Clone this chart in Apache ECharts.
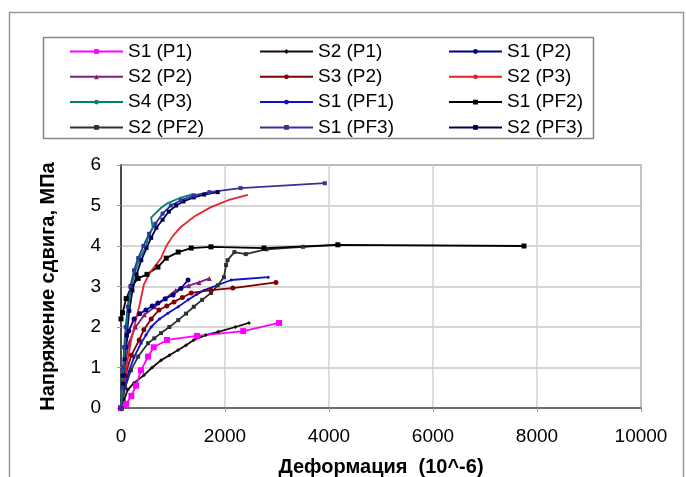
<!DOCTYPE html>
<html><head><meta charset="utf-8">
<script src="https://cdn.jsdelivr.net/npm/echarts@6/dist/echarts.min.js"></script>
<style>html,body{margin:0;padding:0;background:#fff}#c{width:686px;height:477px}</style>
</head><body><div id="c"></div>
<script>
var xTicks = [0, 2000, 4000, 6000, 8000, 10000];
var yTicks = [0, 1, 2, 3, 4, 5, 6];
var xTitle = 'Деформация  (10^-6)';
var yTitle = 'Напряжение сдвига, МПа';

var names = ['S1 (P1)','S2 (P1)','S1 (P2)','S2 (P2)','S3 (P2)','S2 (P3)','S4 (P3)','S1 (PF1)','S1 (PF2)','S2 (PF2)','S1 (PF3)','S2 (PF3)'];

var s1p1 = [[0,0],[100,0.1],[200,0.3],[290,0.55],[385,0.93],[520,1.27],[630,1.5],[885,1.68],[1460,1.78],[2350,1.9],[3040,2.1]];
var s2p1 = [[0,0],[60,0.2],[130,0.45],[250,0.62],[440,0.81],[600,1.0],[770,1.18],[930,1.3],[1100,1.43],[1250,1.55],[1400,1.68],[1630,1.8],[1870,1.88],[2200,2.0],[2460,2.1]];
var s1p2 = [[0,0],[40,0.8],[90,1.5],[150,1.9],[250,2.2],[360,2.33],[480,2.42],[600,2.52],[710,2.59],[850,2.7],[1000,2.79],[1150,2.95],[1290,3.16]];
var s2p2 = [[0,0],[70,1.0],[150,1.6],[280,2.0],[450,2.3],[650,2.5],[850,2.7],[1050,2.9],[1300,3.02],[1500,3.1],[1700,3.2]];
var s3p2 = [[0,0],[80,0.8],[200,1.3],[350,1.68],[440,1.93],[580,2.2],[730,2.42],[880,2.52],[1020,2.62],[1180,2.73],[1350,2.84],[1730,2.91],[2150,2.96],[2980,3.1]];
var s2p3 = [[0,0],[60,0.6],[130,1.2],[200,1.7],[270,2.1],[350,2.5],[440,3.05],[560,3.35],[680,3.55],[770,3.7],[870,4.0],[1000,4.25],[1150,4.47],[1400,4.72],[1730,4.96],[2060,5.13],[2440,5.26]];
var s4p3 = [[0,0],[40,0.8],[80,1.6],[130,2.4],[200,3.0],[280,3.4],[380,3.75],[480,3.98],[520,4.2],[610,4.45],[580,4.7],[670,4.82],[780,4.95],[900,5.06],[1120,5.18],[1380,5.28]];
var s1pf1 = [[0,0],[60,0.5],[150,0.9],[250,1.25],[385,1.6],[480,1.8],[580,2.0],[740,2.2],[900,2.34],[1100,2.5],[1290,2.67],[1450,2.8],[1600,2.91],[2120,3.16],[2830,3.23]];
var s1pf2 = [[0,2.2],[30,2.35],[100,2.7],[200,3.0],[330,3.2],[500,3.3],[710,3.48],[870,3.7],[1100,3.85],[1350,3.95],[1730,3.98],[2750,3.95],[4170,4.03],[7750,4.0]];
var s2pf2 = [[0,0],[80,0.5],[190,0.93],[330,1.27],[520,1.6],[640,1.72],[770,1.85],[930,2.0],[1100,2.17],[1250,2.33],[1400,2.5],[1560,2.67],[1730,2.84],[1860,3.03],[1980,3.23],[2020,3.53],[2050,3.65],[2180,3.85],[2400,3.8],[2800,3.92],[3500,3.98],[4170,4.03]];
var s1pf3 = [[0,0],[20,0.5],[40,1.0],[60,1.5],[90,2.0],[130,2.5],[180,3.0],[250,3.4],[330,3.7],[430,4.0],[540,4.3],[660,4.55],[800,4.8],[960,5.0],[1150,5.13],[1400,5.25],[1700,5.33],[2300,5.43],[3920,5.55]];
var s2pf3 = [[0,0],[40,0.6],[70,1.2],[110,1.8],[160,2.4],[220,2.9],[300,3.3],[390,3.65],[490,3.95],[580,4.2],[680,4.45],[800,4.65],[920,4.85],[1060,5.0],[1200,5.1],[1400,5.2],[1600,5.27],[1860,5.33]];

var seriesData = [s1p1,s2p1,s1p2,s2p2,s3p2,s2p3,s4p3,s1pf1,s1pf2,s2pf2,s1pf3,s2pf3];
var colors = ['#ff00ff','#1a0a0a','#000080','#7a1f7a','#800000','#e8202a','#00806a','#1010c8','#000000','#2a3333','#333399','#000050'];
var symbols = ['rect','diamond','circle','triangle','circle','none','none','circle','rect','rect','rect','rect'];
var sizes = [6,4,5,5,5,0,0,3,5,4,4,4];
var drawOrder = [9,1,0,7,4,3,2,8,5,11,10,6];

var series = [];
drawOrder.forEach(function(i){
  series.push({
    name: names[i], type: 'line', data: seriesData[i],
    color: colors[i], symbol: symbols[i], symbolSize: sizes[i],
    showSymbol: symbols[i] !== 'none',
    lineStyle: {width: 1.8, color: colors[i]},
    itemStyle: {color: colors[i]},
    animation: false
  });
});

var cols = [
  ['S1 (P1)','S2 (P2)','S4 (P3)','S2 (PF2)'],
  ['S2 (P1)','S3 (P2)','S1 (PF1)','S1 (PF3)'],
  ['S1 (P2)','S2 (P3)','S1 (PF2)','S2 (PF3)']
];
var colLeft = [69, 259, 448];
var legends = cols.map(function(c, k){
  return {
    data: c, orient: 'vertical', left: colLeft[k], top: 41, padding: 0,
    itemWidth: 53, itemHeight: 6, itemGap: 4.3,
    selectedMode: false,
    textStyle: {fontFamily: 'Liberation Sans', fontSize: 19, color: '#000', lineHeight: 21}
  };
});

var lab = {fontFamily: 'Liberation Sans', fontSize: 19, color: '#000'};
var ttl = {fontFamily: 'Liberation Sans', fontSize: 20, fontWeight: 'bold', color: '#000'};

var chart = echarts.init(document.getElementById('c'), null, {renderer: 'canvas'});
chart.setOption({
  backgroundColor: '#fff',
  animation: false,
  legend: legends,
  graphic: [
    {type: 'rect', shape: {x: 9.5, y: 12.5, width: 674, height: 480}, style: {fill: 'none', stroke: '#999', lineWidth: 1.5}, silent: true, z: -10},
    {type: 'rect', shape: {x: 43.5, y: 37.5, width: 550, height: 101}, style: {fill: 'none', stroke: '#888', lineWidth: 1.5}, silent: true, z: -10}
  ],
  grid: {left: 121, right: 45, top: 165, bottom: 69, show: true, borderColor: '#777', borderWidth: 1.5, outerBoundsMode: 'none', containLabel: false},
  xAxis: {
    type: 'value', min: xTicks[0], max: xTicks[xTicks.length-1], interval: 2000,
    name: xTitle, nameLocation: 'middle', nameGap: 49,
    nameTextStyle: ttl,
    axisLine: {lineStyle: {color: '#555', width: 1.5}},
    axisTick: {show: true, length: 4, lineStyle: {color: '#999'}},
    axisLabel: Object.assign({margin: 19, formatter: function(v){ return String(v); }}, lab),
    splitLine: {show: true, lineStyle: {color: '#d0d0d0', width: 1.5}}
  },
  yAxis: {
    type: 'value', min: yTicks[0], max: yTicks[yTicks.length-1], interval: 1,
    name: yTitle, nameLocation: 'middle', nameGap: 63, nameRotate: 90,
    nameTextStyle: ttl,
    axisLine: {show: true, lineStyle: {color: '#222', width: 1.5}},
    axisTick: {show: true, length: 4, lineStyle: {color: '#999'}},
    axisLabel: Object.assign({margin: 20}, lab),
    splitLine: {show: true, lineStyle: {color: '#c8c8c8', width: 1.5}}
  },
  series: series
});
</script></body></html>
